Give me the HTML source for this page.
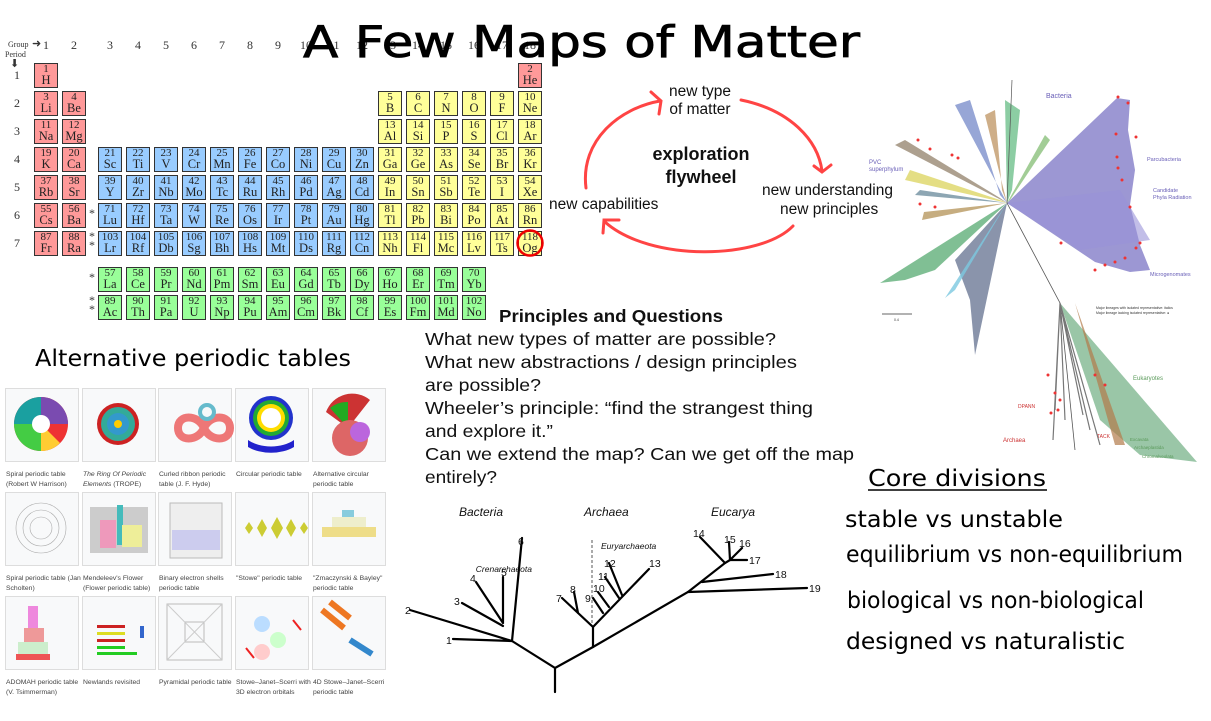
<!DOCTYPE html>
<html><head><meta charset="utf-8"><style>
body{margin:0;width:1211px;height:721px;background:#fff;position:relative;overflow:hidden;font-family:"Liberation Sans",sans-serif}
.c{position:absolute;width:22px;height:23px;border:1px solid #333;font:11px/11px "Liberation Serif",serif;text-align:center;color:#222;box-sizing:content-box}
.c b{font-weight:normal;font-size:12.5px;line-height:11px;display:block}
.r{background:#ff9999}.y{background:#ffff99}.bl{background:#99ccff}.g{background:#99ff99}
.t{position:absolute;font:12px "Liberation Serif",serif;color:#333}
.tile{position:absolute;width:72px;height:72px;border:1px solid #ddd;background:#f8f9fa}
.cap{position:absolute;font:6.8px/10px "Liberation Sans",sans-serif;color:#444;white-space:nowrap}
svg{position:absolute;left:0;top:0}
</style></head><body>

<div class="t" style="left:8px;top:40px;font-size:8px">Group</div>
<div class="t" style="left:5px;top:50px;font-size:8px">Period</div>
<div class="t" style="left:32px;top:37px;font-size:11px">➜</div>
<div class="t" style="left:10px;top:57px;font-size:11px">⬇</div>
<div class="t" style="left:43px;top:38px">1</div><div class="t" style="left:71px;top:38px">2</div>
<div class="t" style="left:107px;top:38px">3</div><div class="t" style="left:135px;top:38px">4</div>
<div class="t" style="left:163px;top:38px">5</div><div class="t" style="left:191px;top:38px">6</div>
<div class="t" style="left:219px;top:38px">7</div><div class="t" style="left:247px;top:38px">8</div>
<div class="t" style="left:275px;top:38px">9</div><div class="t" style="left:300px;top:38px">10</div>
<div class="t" style="left:328px;top:38px">11</div><div class="t" style="left:356px;top:38px">12</div>
<div class="t" style="left:384px;top:38px">13</div><div class="t" style="left:412px;top:38px">14</div>
<div class="t" style="left:440px;top:38px">15</div><div class="t" style="left:468px;top:38px">16</div>
<div class="t" style="left:496px;top:38px">17</div><div class="t" style="left:524px;top:38px">18</div>
<div class="t" style="left:14px;top:68px">1</div><div class="t" style="left:14px;top:96px">2</div>
<div class="t" style="left:14px;top:124px">3</div><div class="t" style="left:14px;top:152px">4</div>
<div class="t" style="left:14px;top:180px">5</div><div class="t" style="left:14px;top:208px">6</div>
<div class="t" style="left:14px;top:236px">7</div>
<div class="t" style="left:89px;top:206px">*</div>
<div class="t" style="left:89px;top:232px;line-height:9px">*<br>*</div>
<div class="t" style="left:89px;top:270px">*</div>
<div class="t" style="left:89px;top:296px;line-height:9px">*<br>*</div>

<div class="c r" style="left:34px;top:63px">1<b>H</b></div>
<div class="c r" style="left:518px;top:63px">2<b>He</b></div>
<div class="c r" style="left:34px;top:91px">3<b>Li</b></div><div class="c r" style="left:62px;top:91px">4<b>Be</b></div>
<div class="c y" style="left:378px;top:91px">5<b>B</b></div><div class="c y" style="left:406px;top:91px">6<b>C</b></div><div class="c y" style="left:434px;top:91px">7<b>N</b></div><div class="c y" style="left:462px;top:91px">8<b>O</b></div><div class="c y" style="left:490px;top:91px">9<b>F</b></div><div class="c y" style="left:518px;top:91px">10<b>Ne</b></div>
<div class="c r" style="left:34px;top:119px">11<b>Na</b></div><div class="c r" style="left:62px;top:119px">12<b>Mg</b></div>
<div class="c y" style="left:378px;top:119px">13<b>Al</b></div><div class="c y" style="left:406px;top:119px">14<b>Si</b></div><div class="c y" style="left:434px;top:119px">15<b>P</b></div><div class="c y" style="left:462px;top:119px">16<b>S</b></div><div class="c y" style="left:490px;top:119px">17<b>Cl</b></div><div class="c y" style="left:518px;top:119px">18<b>Ar</b></div>
<div class="c r" style="left:34px;top:147px">19<b>K</b></div><div class="c r" style="left:62px;top:147px">20<b>Ca</b></div>
<div class="c bl" style="left:98px;top:147px">21<b>Sc</b></div><div class="c bl" style="left:126px;top:147px">22<b>Ti</b></div><div class="c bl" style="left:154px;top:147px">23<b>V</b></div><div class="c bl" style="left:182px;top:147px">24<b>Cr</b></div><div class="c bl" style="left:210px;top:147px">25<b>Mn</b></div><div class="c bl" style="left:238px;top:147px">26<b>Fe</b></div><div class="c bl" style="left:266px;top:147px">27<b>Co</b></div><div class="c bl" style="left:294px;top:147px">28<b>Ni</b></div><div class="c bl" style="left:322px;top:147px">29<b>Cu</b></div><div class="c bl" style="left:350px;top:147px">30<b>Zn</b></div>
<div class="c y" style="left:378px;top:147px">31<b>Ga</b></div><div class="c y" style="left:406px;top:147px">32<b>Ge</b></div><div class="c y" style="left:434px;top:147px">33<b>As</b></div><div class="c y" style="left:462px;top:147px">34<b>Se</b></div><div class="c y" style="left:490px;top:147px">35<b>Br</b></div><div class="c y" style="left:518px;top:147px">36<b>Kr</b></div>
<div class="c r" style="left:34px;top:175px">37<b>Rb</b></div><div class="c r" style="left:62px;top:175px">38<b>Sr</b></div>
<div class="c bl" style="left:98px;top:175px">39<b>Y</b></div><div class="c bl" style="left:126px;top:175px">40<b>Zr</b></div><div class="c bl" style="left:154px;top:175px">41<b>Nb</b></div><div class="c bl" style="left:182px;top:175px">42<b>Mo</b></div><div class="c bl" style="left:210px;top:175px">43<b>Tc</b></div><div class="c bl" style="left:238px;top:175px">44<b>Ru</b></div><div class="c bl" style="left:266px;top:175px">45<b>Rh</b></div><div class="c bl" style="left:294px;top:175px">46<b>Pd</b></div><div class="c bl" style="left:322px;top:175px">47<b>Ag</b></div><div class="c bl" style="left:350px;top:175px">48<b>Cd</b></div>
<div class="c y" style="left:378px;top:175px">49<b>In</b></div><div class="c y" style="left:406px;top:175px">50<b>Sn</b></div><div class="c y" style="left:434px;top:175px">51<b>Sb</b></div><div class="c y" style="left:462px;top:175px">52<b>Te</b></div><div class="c y" style="left:490px;top:175px">53<b>I</b></div><div class="c y" style="left:518px;top:175px">54<b>Xe</b></div>
<div class="c r" style="left:34px;top:203px">55<b>Cs</b></div><div class="c r" style="left:62px;top:203px">56<b>Ba</b></div>
<div class="c bl" style="left:98px;top:203px">71<b>Lu</b></div><div class="c bl" style="left:126px;top:203px">72<b>Hf</b></div><div class="c bl" style="left:154px;top:203px">73<b>Ta</b></div><div class="c bl" style="left:182px;top:203px">74<b>W</b></div><div class="c bl" style="left:210px;top:203px">75<b>Re</b></div><div class="c bl" style="left:238px;top:203px">76<b>Os</b></div><div class="c bl" style="left:266px;top:203px">77<b>Ir</b></div><div class="c bl" style="left:294px;top:203px">78<b>Pt</b></div><div class="c bl" style="left:322px;top:203px">79<b>Au</b></div><div class="c bl" style="left:350px;top:203px">80<b>Hg</b></div>
<div class="c y" style="left:378px;top:203px">81<b>Tl</b></div><div class="c y" style="left:406px;top:203px">82<b>Pb</b></div><div class="c y" style="left:434px;top:203px">83<b>Bi</b></div><div class="c y" style="left:462px;top:203px">84<b>Po</b></div><div class="c y" style="left:490px;top:203px">85<b>At</b></div><div class="c y" style="left:518px;top:203px">86<b>Rn</b></div>
<div class="c r" style="left:34px;top:231px">87<b>Fr</b></div><div class="c r" style="left:62px;top:231px">88<b>Ra</b></div>
<div class="c bl" style="left:98px;top:231px">103<b>Lr</b></div><div class="c bl" style="left:126px;top:231px">104<b>Rf</b></div><div class="c bl" style="left:154px;top:231px">105<b>Db</b></div><div class="c bl" style="left:182px;top:231px">106<b>Sg</b></div><div class="c bl" style="left:210px;top:231px">107<b>Bh</b></div><div class="c bl" style="left:238px;top:231px">108<b>Hs</b></div><div class="c bl" style="left:266px;top:231px">109<b>Mt</b></div><div class="c bl" style="left:294px;top:231px">110<b>Ds</b></div><div class="c bl" style="left:322px;top:231px">111<b>Rg</b></div><div class="c bl" style="left:350px;top:231px">112<b>Cn</b></div>
<div class="c y" style="left:378px;top:231px">113<b>Nh</b></div><div class="c y" style="left:406px;top:231px">114<b>Fl</b></div><div class="c y" style="left:434px;top:231px">115<b>Mc</b></div><div class="c y" style="left:462px;top:231px">116<b>Lv</b></div><div class="c y" style="left:490px;top:231px">117<b>Ts</b></div><div class="c y" style="left:518px;top:231px">118<b>Og</b></div>
<div class="c g" style="left:98px;top:267px">57<b>La</b></div><div class="c g" style="left:126px;top:267px">58<b>Ce</b></div><div class="c g" style="left:154px;top:267px">59<b>Pr</b></div><div class="c g" style="left:182px;top:267px">60<b>Nd</b></div><div class="c g" style="left:210px;top:267px">61<b>Pm</b></div><div class="c g" style="left:238px;top:267px">62<b>Sm</b></div><div class="c g" style="left:266px;top:267px">63<b>Eu</b></div><div class="c g" style="left:294px;top:267px">64<b>Gd</b></div><div class="c g" style="left:322px;top:267px">65<b>Tb</b></div><div class="c g" style="left:350px;top:267px">66<b>Dy</b></div><div class="c g" style="left:378px;top:267px">67<b>Ho</b></div><div class="c g" style="left:406px;top:267px">68<b>Er</b></div><div class="c g" style="left:434px;top:267px">69<b>Tm</b></div><div class="c g" style="left:462px;top:267px">70<b>Yb</b></div>
<div class="c g" style="left:98px;top:295px">89<b>Ac</b></div><div class="c g" style="left:126px;top:295px">90<b>Th</b></div><div class="c g" style="left:154px;top:295px">91<b>Pa</b></div><div class="c g" style="left:182px;top:295px">92<b>U</b></div><div class="c g" style="left:210px;top:295px">93<b>Np</b></div><div class="c g" style="left:238px;top:295px">94<b>Pu</b></div><div class="c g" style="left:266px;top:295px">95<b>Am</b></div><div class="c g" style="left:294px;top:295px">96<b>Cm</b></div><div class="c g" style="left:322px;top:295px">97<b>Bk</b></div><div class="c g" style="left:350px;top:295px">98<b>Cf</b></div><div class="c g" style="left:378px;top:295px">99<b>Es</b></div><div class="c g" style="left:406px;top:295px">100<b>Fm</b></div><div class="c g" style="left:434px;top:295px">101<b>Md</b></div><div class="c g" style="left:462px;top:295px">102<b>No</b></div>

<div class="tile" style="left:5px;top:388px"></div><div class="tile" style="left:82px;top:388px"></div><div class="tile" style="left:158px;top:388px"></div><div class="tile" style="left:235px;top:388px"></div><div class="tile" style="left:312px;top:388px"></div>
<div class="tile" style="left:5px;top:492px"></div><div class="tile" style="left:82px;top:492px"></div><div class="tile" style="left:158px;top:492px"></div><div class="tile" style="left:235px;top:492px"></div><div class="tile" style="left:312px;top:492px"></div>
<div class="tile" style="left:5px;top:596px"></div><div class="tile" style="left:82px;top:596px"></div><div class="tile" style="left:158px;top:596px"></div><div class="tile" style="left:235px;top:596px"></div><div class="tile" style="left:312px;top:596px"></div>
<div class="cap" style="left:6px;top:470px">Spiral periodic table<br>(Robert W Harrison)</div>
<div class="cap" style="left:83px;top:470px"><i>The Ring Of Periodic<br>Elements</i> (TROPE)</div>
<div class="cap" style="left:159px;top:470px">Curled ribbon periodic<br>table (J. F. Hyde)</div>
<div class="cap" style="left:236px;top:470px">Circular periodic table</div>
<div class="cap" style="left:313px;top:470px">Alternative circular<br>periodic table</div>
<div class="cap" style="left:6px;top:574px">Spiral periodic table (Jan<br>Scholten)</div>
<div class="cap" style="left:83px;top:574px">Mendeleev's Flower<br>(Flower periodic table)</div>
<div class="cap" style="left:159px;top:574px">Binary electron shells<br>periodic table</div>
<div class="cap" style="left:236px;top:574px">"Stowe" periodic table</div>
<div class="cap" style="left:313px;top:574px">"Zmaczynski &amp; Bayley"<br>periodic table</div>
<div class="cap" style="left:6px;top:678px">ADOMAH periodic table<br>(V. Tsimmerman)</div>
<div class="cap" style="left:83px;top:678px">Newlands revisited</div>
<div class="cap" style="left:159px;top:678px">Pyramidal periodic table</div>
<div class="cap" style="left:236px;top:678px">Stowe–Janet–Scerri with<br>3D electron orbitals</div>
<div class="cap" style="left:313px;top:678px">4D Stowe–Janet–Scerri<br>periodic table</div>

<svg width="1211" height="721" viewBox="0 0 1211 721">
<g>
<circle cx="41" cy="424" r="27" fill="#e33"/><path d="M41 424 L41 397 A27 27 0 0 1 68 424Z" fill="#7a4bb0"/><path d="M41 424 L14 424 A27 27 0 0 1 41 397Z" fill="#1aa0a0"/><path d="M41 424 L41 451 A27 27 0 0 1 14 424Z" fill="#4c4"/><path d="M41 424 L41 451 A27 27 0 0 0 60 443Z" fill="#fc3"/><circle cx="41" cy="424" r="9" fill="#fff"/>
<circle cx="118" cy="424" r="21" fill="#c22"/><circle cx="118" cy="424" r="17" fill="#3a9"/><circle cx="118" cy="424" r="11" fill="#39c"/><circle cx="118" cy="424" r="4" fill="#fc0"/>
<path d="M178 428 c0-14 20-14 26 0 s26 14 26 0 s-20-14-26 0 s-26 14-26 0z" fill="none" stroke="#e77" stroke-width="8"/><circle cx="207" cy="412" r="7" fill="none" stroke="#6bc" stroke-width="4"/>
<circle cx="271" cy="418" r="22" fill="#23c"/><circle cx="271" cy="418" r="18" fill="#2a3"/><circle cx="271" cy="418" r="14" fill="#fd0"/><circle cx="271" cy="418" r="10" fill="#fff"/><path d="M248 440 A30 18 0 0 0 294 440 L294 447 A34 22 0 0 1 248 447Z" fill="#22c"/>
<path d="M348 428 L326 412 A28 28 0 0 1 370 400Z" fill="#c33"/><path d="M348 428 L330 408 A26 26 0 0 1 348 402Z" fill="#2a2"/><circle cx="350" cy="438" r="18" fill="#d66"/><circle cx="360" cy="432" r="10" fill="#b6d"/>
<circle cx="41" cy="528" r="25" fill="none" stroke="#aaa" stroke-width="0.6"/><circle cx="41" cy="528" r="18" fill="none" stroke="#aaa" stroke-width="0.6"/><circle cx="41" cy="528" r="11" fill="none" stroke="#aaa" stroke-width="0.6"/>
<rect x="90" y="507" width="58" height="46" fill="#ccc"/><rect x="100" y="520" width="16" height="28" fill="#e9b"/><rect x="117" y="505" width="6" height="40" fill="#4bb"/><rect x="122" y="525" width="20" height="22" fill="#ee9"/>
<rect x="170" y="503" width="52" height="55" fill="#eee" stroke="#bbb"/><rect x="172" y="530" width="48" height="20" fill="#cce"/>
<path d="M245 528 l4-6 4 6-4 6z M257 528 l5-9 5 9-5 9z M271 528 l6-11 6 11-6 11z M286 528 l5-9 5 9-5 9z M300 528 l4-6 4 6-4 6z" fill="#cc3"/>
<rect x="322" y="527" width="54" height="10" fill="#ed8"/><rect x="332" y="517" width="34" height="10" fill="#eec"/><rect x="342" y="510" width="12" height="7" fill="#8cd"/>
<rect x="28" y="606" width="10" height="22" fill="#e8d"/><rect x="24" y="628" width="20" height="14" fill="#e99"/><rect x="18" y="642" width="30" height="12" fill="#cec"/><rect x="16" y="654" width="34" height="6" fill="#e55"/>
<rect x="97" y="625" width="28" height="3" fill="#c22"/><rect x="97" y="632" width="28" height="3" fill="#dd2"/><rect x="97" y="639" width="28" height="3" fill="#c22"/><rect x="97" y="646" width="28" height="3" fill="#2c2"/><rect x="97" y="652" width="40" height="3" fill="#2c2"/><rect x="140" y="626" width="4" height="12" fill="#36c"/>
<rect x="167" y="604" width="55" height="56" fill="none" stroke="#bbb"/><rect x="185" y="622" width="19" height="20" fill="none" stroke="#bbb"/><path d="M167 604 L222 660 M222 604 L167 660" stroke="#ccc"/>
<circle cx="262" cy="624" r="8" fill="#bdf"/><circle cx="278" cy="640" r="8" fill="#cfc"/><circle cx="262" cy="652" r="8" fill="#fcc"/><path d="M293 620 l8 10 M246 648 l8 10" stroke="#e22" stroke-width="2"/>
<path d="M322 610 l22 18 M330 602 l20 16" stroke="#e72" stroke-width="6"/><path d="M350 640 l22 14" stroke="#38c" stroke-width="6"/>
</g>

<text x="303" y="57" font-family="DejaVu Sans" font-size="44" textLength="557" lengthAdjust="spacingAndGlyphs" fill="#000" stroke="#000" stroke-width="0.8">A Few Maps of Matter</text>
<text x="35" y="366" font-family="DejaVu Sans" font-size="23" textLength="316" lengthAdjust="spacingAndGlyphs" fill="#000">Alternative periodic tables</text>

<circle cx="530" cy="243" r="12.5" fill="none" stroke="#e00" stroke-width="2.5"/>

<g fill="none" stroke="#f44" stroke-width="3" stroke-linecap="round">
<path d="M586 188 C580 140 620 108 660 101"/><path d="M651 92 L661 101 L659 114"/>
<path d="M741 100 C790 110 818 140 822 171"/><path d="M814 166 L822 172 L831 165"/>
<path d="M793 226 C760 260 650 262 605 222"/><path d="M603 233 L604 220 L619 220"/>
</g>
<g font-family="Liberation Sans" fill="#111">
<text x="700" y="96" font-size="15.5" text-anchor="middle">new type</text>
<text x="700" y="114" font-size="15.5" text-anchor="middle">of matter</text>
<text x="701" y="160" font-size="18" font-weight="bold" text-anchor="middle">exploration</text>
<text x="701" y="183" font-size="18" font-weight="bold" text-anchor="middle">flywheel</text>
<text x="762" y="195" font-size="15.5">new understanding</text>
<text x="780" y="214" font-size="15.5">new principles</text>
<text x="549" y="209" font-size="15.5">new capabilities</text>
</g>

<g font-family="Liberation Sans" fill="#111" font-size="17.5">
<text x="499" y="322" font-weight="bold" textLength="224" lengthAdjust="spacingAndGlyphs">Principles and Questions</text>
<text x="425" y="345" textLength="351" lengthAdjust="spacingAndGlyphs">What new types of matter are possible?</text>
<text x="425" y="368" textLength="372" lengthAdjust="spacingAndGlyphs">What new abstractions / design principles</text>
<text x="425" y="391" textLength="116" lengthAdjust="spacingAndGlyphs">are possible?</text>
<text x="425" y="414" textLength="388" lengthAdjust="spacingAndGlyphs">Wheeler’s principle: “find the strangest thing</text>
<text x="425" y="437" textLength="128" lengthAdjust="spacingAndGlyphs">and explore it.”</text>
<text x="425" y="460" textLength="429" lengthAdjust="spacingAndGlyphs">Can we extend the map? Can we get off the map</text>
<text x="425" y="483" textLength="72" lengthAdjust="spacingAndGlyphs">entirely?</text>
</g>

<g font-family="DejaVu Sans" fill="#000" font-size="23">
<text x="868" y="486" textLength="178" lengthAdjust="spacingAndGlyphs">Core divisions</text>
<line x1="868" y1="490" x2="1047" y2="490" stroke="#000" stroke-width="1.5"/>
<text x="845" y="527" textLength="218" lengthAdjust="spacingAndGlyphs">stable vs unstable</text>
<text x="846" y="562" textLength="337" lengthAdjust="spacingAndGlyphs">equilibrium vs non-equilibrium</text>
<text x="847" y="608" textLength="297" lengthAdjust="spacingAndGlyphs">biological vs non-biological</text>
<text x="846" y="649" textLength="279" lengthAdjust="spacingAndGlyphs">designed vs naturalistic</text>
</g>

<g stroke="#000" stroke-width="2.2" fill="none" stroke-linecap="round">
<path d="M555 692 L555 668 L512 641 M555 668 L593 647 L688 592 L725 563 L730 560"/>
<path d="M453 639 L512 641 M410 610 L512 641 M512 641 L522 538 M503 623 L503 577 M476 582 L503 623 M462 603 L503 626"/>
<path d="M593 647 L593 627 L562 598 M578 613 L574 592 M593 627 L649 569 M603 613 L593 598 M609 607 L598 592 M619 598 L605 577 M622 595 L609 563"/>
<path d="M688 592 L807 588 M702 582 L773 574 M725 563 L700 537 M730 560 L729 542 M730 560 L742 548 M730 560 L747 560"/>
</g>
<line x1="592" y1="540" x2="592" y2="625" stroke="#555" stroke-width="1" stroke-dasharray="3,2"/>
<g font-family="Liberation Sans" font-size="10.5" fill="#111">
<text x="459" y="516" font-style="italic" font-size="12">Bacteria</text>
<text x="584" y="516" font-style="italic" font-size="12">Archaea</text>
<text x="711" y="516" font-style="italic" font-size="12">Eucarya</text>
<text x="532" y="572" font-style="italic" font-size="8.5" text-anchor="end">Crenarchaeota</text>
<text x="601" y="549" font-style="italic" font-size="8.5">Euryarchaeota</text>
<text x="446" y="644">1</text><text x="405" y="614">2</text><text x="454" y="605">3</text><text x="470" y="582">4</text><text x="501" y="576">5</text><text x="518" y="545">6</text>
<text x="556" y="602">7</text><text x="570" y="593">8</text><text x="585" y="602">9</text><text x="593" y="592">10</text><text x="598" y="580">11</text><text x="604" y="567">12</text><text x="649" y="567">13</text>
<text x="693" y="537">14</text><text x="724" y="543">15</text><text x="739" y="547">16</text><text x="749" y="564">17</text><text x="775" y="578">18</text><text x="809" y="592">19</text>
</g>

<g>
<path d="M1007 203 L1117 98 L1130 100 L1128 130 L1135 170 L1130 205 L1140 245 L1150 270 L1130 272 L1095 262 Z" fill="#7b74c4" opacity="0.75"/>
<path d="M1007 203 L1120 190 L1150 240 L1080 250Z" fill="#9a93d8" opacity="0.6"/>
<path d="M1060 303 L1197 462 L1140 455 L1100 420Z" fill="#6fae82" opacity="0.7"/>
<path d="M1007 203 L955 105 L970 100 L1000 195Z" fill="#6b80c4" opacity="0.7"/>
<path d="M1007 203 L985 115 L995 110 L1002 190Z" fill="#b98b55" opacity="0.7"/>
<path d="M1007 203 L1005 100 L1020 110 L1012 190Z" fill="#5bb87c" opacity="0.7"/>
<path d="M1007 203 L1045 135 L1050 140 L1010 200Z" fill="#7ab86a" opacity="0.7"/>
<path d="M1007 203 L895 145 L905 140 L1000 198Z" fill="#8a7860" opacity="0.7"/>
<path d="M1007 203 L905 180 L910 170 L1000 200Z" fill="#d8d050" opacity="0.7"/>
<path d="M1007 203 L915 195 L920 190Z" fill="#7090a0" opacity="0.8"/>
<path d="M1007 203 L922 220 L924 212Z" fill="#b89860" opacity="0.8"/>
<path d="M1007 203 L880 283 L905 280 L935 270 Z" fill="#56a970" opacity="0.75"/>
<path d="M1007 203 L975 355 L970 300 L955 260 Z" fill="#63708f" opacity="0.75"/>
<path d="M1007 203 L945 298 L955 290Z" fill="#7cc8e0" opacity="0.8"/>
<path d="M1007 203 L1060 303 L1075 450" fill="none" stroke="#555" stroke-width="0.8"/>
<path d="M1060 303 L1055 410 M1060 303 L1065 420 M1060 303 L1083 415 M1060 303 L1090 430 M1060 303 L1100 445 M1060 303 L1053 440" stroke="#777" stroke-width="1.2" fill="none"/>
<path d="M1075 303 L1125 445 L1115 445Z" fill="#b27a4a" opacity="0.7"/>
<path d="M1007 203 L1012 80" stroke="#555" stroke-width="0.7"/>
<line x1="882" y1="314" x2="912" y2="314" stroke="#333" stroke-width="0.8"/>
<g font-family="Liberation Sans" fill="#6a60b8">
<text x="1046" y="98" font-size="7">Bacteria</text>
<text x="1147" y="161" font-size="5.5">Parcubacteria</text>
<text x="1153" y="192" font-size="5.5">Candidate</text>
<text x="1153" y="199" font-size="5.5">Phyla Radiation</text>
<text x="1150" y="276" font-size="5.5">Microgenomates</text>
<text x="869" y="164" font-size="6">PVC</text>
<text x="869" y="171" font-size="6">superphylum</text>
<text x="1133" y="380" font-size="6" fill="#5a9a5a">Eukaryotes</text>
<text x="1003" y="442" font-size="6" fill="#c33">Archaea</text>
<text x="1097" y="438" font-size="5" fill="#c33">TACK</text>
<text x="1018" y="408" font-size="5" fill="#c33">DPANN</text>
<text x="1130" y="441" font-size="4.5" fill="#5a9a5a">Excavata</text>
<text x="1134" y="449" font-size="4.5" fill="#5a9a5a">Archaeplastida</text>
<text x="1142" y="458" font-size="4.5" fill="#5a9a5a">Chromalveolata</text>
<text x="1096" y="309" font-size="3.5" fill="#333">Major lineages with isolated representative: italics</text>
<text x="1096" y="314" font-size="3.5" fill="#333">Major lineage lacking isolated representative: ●</text>
<text x="894" y="321" font-size="3.5" fill="#333">0.4</text>
</g>
<g fill="#e33">
<circle cx="1118" cy="97" r="1.5"/><circle cx="1128" cy="103" r="1.5"/><circle cx="1116" cy="134" r="1.5"/><circle cx="1136" cy="137" r="1.5"/><circle cx="1117" cy="157" r="1.5"/><circle cx="1118" cy="168" r="1.5"/><circle cx="1122" cy="180" r="1.5"/><circle cx="1130" cy="207" r="1.5"/><circle cx="1140" cy="243" r="1.5"/><circle cx="1136" cy="248" r="1.5"/><circle cx="1125" cy="258" r="1.5"/><circle cx="1115" cy="262" r="1.5"/><circle cx="1105" cy="265" r="1.5"/><circle cx="1095" cy="270" r="1.5"/><circle cx="918" cy="140" r="1.5"/><circle cx="930" cy="149" r="1.5"/><circle cx="952" cy="155" r="1.5"/><circle cx="958" cy="158" r="1.5"/><circle cx="920" cy="204" r="1.5"/><circle cx="935" cy="207" r="1.5"/><circle cx="1061" cy="243" r="1.5"/><circle cx="1048" cy="375" r="1.5"/><circle cx="1055" cy="393" r="1.5"/><circle cx="1060" cy="400" r="1.5"/><circle cx="1095" cy="375" r="1.5"/><circle cx="1105" cy="385" r="1.5"/><circle cx="1051" cy="413" r="1.5"/><circle cx="1058" cy="410" r="1.5"/>
</g>
</g>
</svg>
</body></html>
